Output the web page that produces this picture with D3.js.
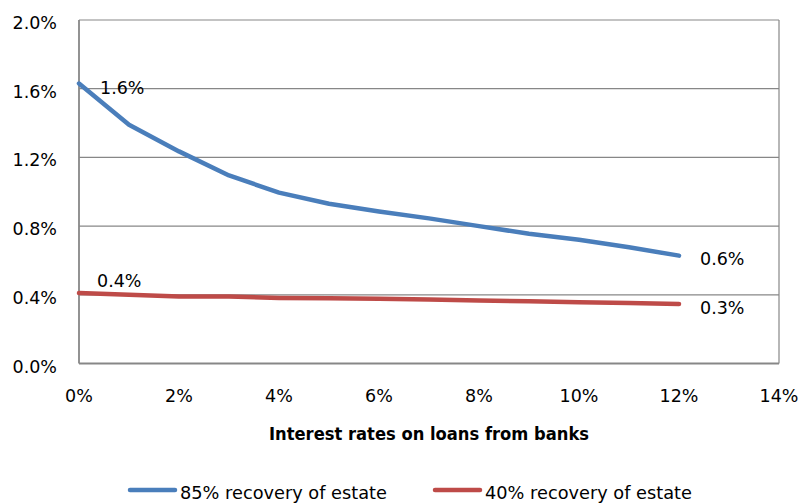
<!DOCTYPE html>
<html>
<head>
<meta charset="utf-8">
<script src="https://d3js.org/d3.v7.min.js"></script>
<style>
  html, body { margin: 0; padding: 0; background: #fff; }
  svg { display: block; }
  text { font-family: "DejaVu Sans", sans-serif; fill: #000; }
</style>
</head>
<body>
<svg id="chart" width="801" height="504"></svg>
<script>
// ---- data ----
const rates = [0, 1, 2, 3, 4, 5, 6, 7, 8, 9, 10, 11, 12];
const recovery85 = [1.63, 1.39, 1.235, 1.095, 0.995, 0.93, 0.885, 0.845, 0.80, 0.755, 0.72, 0.677, 0.628];
const recovery40 = [0.41, 0.40, 0.39, 0.39, 0.382, 0.38, 0.377, 0.372, 0.367, 0.362, 0.357, 0.352, 0.347];
const seriesNames = ["85% recovery of estate", "40% recovery of estate"];
const seriesColors = ["#4a7ebb", "#be4b48"];
const yTicks = [0, 0.4, 0.8, 1.2, 1.6, 2.0];
const xTicks = [0, 2, 4, 6, 8, 10, 12, 14];
const xTitle = "Interest rates on loans from banks";

// ---- layout ----
const svg = d3.select("#chart");
const x = d3.scaleLinear().domain([0, 14]).range([79, 779]);
const y = d3.scaleLinear().domain([0, 2]).range([363.5, 20]);

// gridlines
svg.append("g").selectAll("line").data(yTicks).join("line")
  .attr("x1", x(0)).attr("x2", x(14))
  .attr("y1", d => y(d)).attr("y2", d => y(d))
  .attr("stroke", "#878787").attr("stroke-width", 1.2);

// plot border (right) and axes
svg.append("line").attr("x1", x(14)).attr("x2", x(14)).attr("y1", y(2)).attr("y2", y(0))
  .attr("stroke", "#878787").attr("stroke-width", 1.2);
svg.append("line").attr("x1", x(0)).attr("x2", x(0)).attr("y1", y(2)).attr("y2", y(0))
  .attr("stroke", "#878787").attr("stroke-width", 1.8);
svg.append("line").attr("x1", x(0)).attr("x2", x(14)).attr("y1", y(0)).attr("y2", y(0))
  .attr("stroke", "#878787").attr("stroke-width", 1.8);

// y tick labels
svg.append("g").selectAll("text").data(yTicks).join("text")
  .attr("x", 57).attr("y", d => y(d) + 9)
  .attr("text-anchor", "end").attr("font-size", 17.5)
  .text(d => d.toFixed(1) + "%");

// x tick labels
svg.append("g").selectAll("text").data(xTicks).join("text")
  .attr("x", d => x(d)).attr("y", 402)
  .attr("text-anchor", "middle").attr("font-size", 17.5)
  .text(d => d + "%");

// x title
svg.append("text").attr("x", (x(0) + x(14)) / 2).attr("y", 440)
  .attr("text-anchor", "middle").attr("font-size", 18).attr("font-weight", "bold")
  .attr("textLength", 320).attr("lengthAdjust", "spacingAndGlyphs")
  .text(xTitle);

// lines
const series = [recovery85, recovery40];
const line = d3.line().x((d, i) => x(rates[i])).y(d => y(d));
series.forEach((s, k) => {
  svg.append("path").attr("d", line(s))
    .attr("fill", "none").attr("stroke", seriesColors[k])
    .attr("stroke-width", 4.5).attr("stroke-linecap", "round").attr("stroke-linejoin", "round");
});

// data labels
const fmt = v => v.toFixed(1) + "%";
const last = rates.length - 1;
const labels = [
  { xv: rates[0], yv: recovery85[0], dx: 21, dy: 10.5 },
  { xv: rates[0], yv: recovery40[0], dx: 18, dy: -6 },
  { xv: rates[last], yv: recovery85[last], dx: 21, dy: 9 },
  { xv: rates[last], yv: recovery40[last], dx: 21, dy: 10 }
];
svg.append("g").selectAll("text").data(labels).join("text")
  .attr("x", d => x(d.xv) + d.dx).attr("y", d => y(d.yv) + d.dy)
  .attr("font-size", 17.5)
  .text(d => fmt(d.yv));

// legend
const legendX = [128, 433];
seriesNames.forEach((name, k) => {
  svg.append("line").attr("x1", legendX[k] + 2).attr("x2", legendX[k] + 47)
    .attr("y1", 490).attr("y2", 490)
    .attr("stroke", seriesColors[k]).attr("stroke-width", 4.5).attr("stroke-linecap", "round");
  svg.append("text").attr("x", legendX[k] + 52).attr("y", 499)
    .attr("font-size", 17.5).attr("textLength", 207).attr("lengthAdjust", "spacingAndGlyphs")
    .text(name);
});
</script>
</body>
</html>
